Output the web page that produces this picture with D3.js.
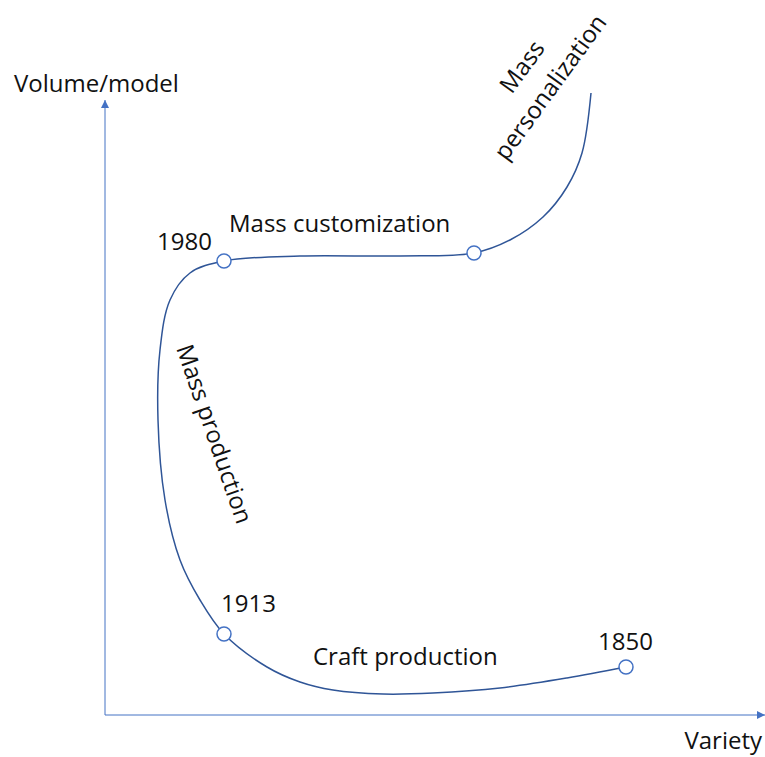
<!DOCTYPE html>
<html>
<head>
<meta charset="utf-8">
<script src="https://cdn.jsdelivr.net/npm/d3@7"></script>
<style>
  body { margin: 0; background: #fff; }
  text { font-family: "Open Sans", Lato, sans-serif; fill: #111; }
</style>
</head>
<body>
<div id="chart"></div>
<script>
// curve, in axis units (variety, volume/model)
var variety = [52.1, 46.2, 39.5, 32.8, 27.8, 22.8, 19.5, 16.2, 11.9, 9.5, 7.5, 6.0, 5.3, 5.5, 6.5, 8.5, 11.9, 19.5, 29.5, 36.9, 40.5, 43.8, 46.2, 47.7, 48.6];
var volume  = [4.8, 3.7, 2.7, 2.2, 2.1, 2.5, 3.3, 4.8, 8.1, 11.5, 15.5, 21.5, 29.5, 36.5, 41.5, 44.2, 45.4, 45.9, 45.9, 46.2, 47.5, 49.8, 52.8, 56.2, 62.2];

// marked points on the curve
var markYears   = ["1850", "1913", "1980", ""];
var markVariety = [52.1, 11.9, 11.9, 36.9];
var markVolume  = [4.8, 8.1, 45.4, 46.2];

var width = 765,
    height = 757,
    margin = {top: 100, right: 0, bottom: 42, left: 105};

var svg = d3.select("#chart").append("svg")
    .attr("width", width)
    .attr("height", height);

var x = d3.scaleLinear().domain([0, 66]).range([margin.left, width - margin.right]),
    y = d3.scaleLinear().domain([0, 61.5]).range([height - margin.bottom, margin.top]);

var axisColor = "#4472C4",
    lineColor = "#2F5597";

var defs = svg.append("defs");
defs.append("marker")
    .attr("id", "arrow")
    .attr("viewBox", "0 0 10 10")
    .attr("refX", 10).attr("refY", 5)
    .attr("markerWidth", 8).attr("markerHeight", 8)
    .attr("markerUnits", "userSpaceOnUse")
    .attr("orient", "auto")
  .append("path")
    .attr("d", "M0,0L10,5L0,10z")
    .attr("fill", axisColor);

// axes
svg.append("line")
    .attr("x1", x(0)).attr("y1", y(0))
    .attr("x2", x(66)).attr("y2", y(0))
    .attr("stroke", axisColor).attr("stroke-width", 1)
    .attr("marker-end", "url(#arrow)");

svg.append("line")
    .attr("x1", x(0)).attr("y1", y(0))
    .attr("x2", x(0)).attr("y2", y(61.5))
    .attr("stroke", axisColor).attr("stroke-width", 1)
    .attr("marker-end", "url(#arrow)");

svg.append("text")
    .attr("x", 14).attr("y", 92)
    .style("font-size", "24px")
    .text("Volume/model");

svg.append("text")
    .attr("x", 762).attr("y", 749)
    .attr("text-anchor", "end")
    .style("font-size", "24px")
    .text("Variety");

// the curve
var pts = variety.map(function(v, i) { return [v, volume[i]]; });

var line = d3.line()
    .curve(d3.curveCatmullRom.alpha(0.5))
    .x(function(d) { return x(d[0]); })
    .y(function(d) { return y(d[1]); });

svg.append("path")
    .attr("d", line(pts))
    .attr("fill", "none")
    .attr("stroke", lineColor)
    .attr("stroke-width", 1.5);

svg.selectAll(".mark")
    .data(markYears.map(function(t, i) { return {year: t, v: markVariety[i], vol: markVolume[i]}; }))
  .enter().append("circle")
    .attr("class", "mark")
    .attr("cx", function(d) { return x(d.v); })
    .attr("cy", function(d) { return y(d.vol); })
    .attr("r", 7)
    .attr("fill", "#fff")
    .attr("stroke", axisColor)
    .attr("stroke-width", 1.5);

// year labels
var yearPos = {"1850": [598, 650], "1913": [221, 612], "1980": [157, 250]};
markYears.forEach(function(t) {
  if (!t) return;
  svg.append("text")
      .attr("x", yearPos[t][0]).attr("y", yearPos[t][1])
      .style("font-size", "24px")
      .text(t);
});

// phase labels
svg.append("text")
    .attr("x", 229).attr("y", 232)
    .style("font-size", "24px")
    .text("Mass customization");

svg.append("text")
    .attr("x", 313).attr("y", 665)
    .style("font-size", "24px")
    .text("Craft production");

svg.append("text")
    .attr("transform", "translate(176,348) rotate(71)")
    .style("font-size", "24px")
    .text("Mass production");

var pers = svg.append("text")
    .attr("transform", "translate(557,92) rotate(-54)")
    .attr("text-anchor", "middle")
    .style("font-size", "24px");
pers.append("tspan").attr("x", 0).attr("y", 0).attr("dy", "-1.45em").text("Mass");
pers.append("tspan").attr("x", 0).attr("y", 0).text("personalization");
</script>
</body>
</html>
